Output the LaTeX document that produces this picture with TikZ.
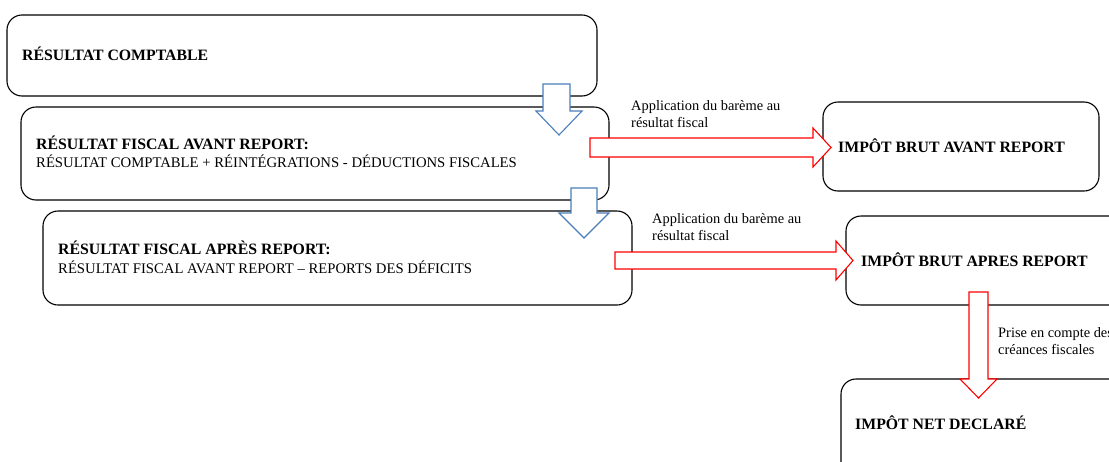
\documentclass[tikz,border=0pt]{standalone}
\usepackage{fontspec}
\setmainfont{Liberation Serif}
\definecolor{arrowblue}{RGB}{74,126,187}
\definecolor{arrowred}{RGB}{255,0,0}
\tikzset{
  box/.style={draw=black, line width=1.1pt, rounded corners=15pt, fill=white},
  title/.style={anchor=base west, inner sep=0pt, font=\fontsize{15.8}{17}\selectfont\bfseries},
  body/.style={anchor=base west, inner sep=0pt, font=\fontsize{14.7}{16.5}\selectfont},
  lbl/.style={anchor=base west, inner sep=0pt, font=\fontsize{14.4}{16}\selectfont},
  bluearrow/.style={draw=arrowblue, line width=1.1pt, fill=white, line join=miter},
  redarrow/.style={draw=arrowred, line width=1.1pt, fill=white, line join=miter},
}
\begin{document}
\begin{tikzpicture}[x=1pt,y=-1pt]
\useasboundingbox (0,0) rectangle (1109,461);
\clip (0,0) rectangle (1109,461);
% boxes
\draw[box] (7,15) rectangle (597,96);
\node[inner sep=0pt] (b1) at (302,55.5) {};
\draw[box] (21,107) rectangle (609,200);
\node[inner sep=0pt] (b2) at (315,153.5) {};
\draw[box] (43,211) rectangle (632,305);
\node[inner sep=0pt] (b3) at (337,258) {};
\draw[box] (823,102) rectangle (1099,191);
\node[inner sep=0pt] (b4) at (961,146.5) {};
\draw[box] (846,216) rectangle (1125,305);
\node[inner sep=0pt] (b5) at (985,260) {};
\draw[box] (841,379) rectangle (1130,480);
\node[inner sep=0pt] (b6) at (985,430) {};
% texts
\node[title] (t1) at (22,60) {RÉSULTAT COMPTABLE};
\node[title] (t2a) at (36,149) {RÉSULTAT FISCAL AVANT REPORT:};
\node[body]  (t2b) at (36,167) {RÉSULTAT COMPTABLE + RÉINTÉGRATIONS - DÉDUCTIONS FISCALES};
\node[title] (t3a) at (58,254) {RÉSULTAT FISCAL APRÈS REPORT:};
\node[body]  (t3b) at (58,273) {RÉSULTAT FISCAL AVANT REPORT – REPORTS DES DÉFICITS};
\node[title] (t4) at (838,152) {IMPÔT BRUT AVANT REPORT};
\node[title] (t5) at (861,266) {IMPÔT BRUT APRES REPORT};
\node[title] (t6) at (855,429) {IMPÔT NET DECLARÉ};
% blue arrows
\draw[bluearrow] (543,84) -- (570,84) -- (570,111) -- (582,111) -- (559,135) -- (536,111) -- (543,111) -- cycle;
\draw[bluearrow] (571,188) -- (597,188) -- (597,213) -- (609,213) -- (584,238) -- (559,213) -- (571,213) -- cycle;
% red arrows
\draw[redarrow] (590,138) -- (813,138) -- (813,128) -- (831,147.5) -- (813,167) -- (813,157) -- (590,157) -- cycle;
\draw[redarrow] (615,252) -- (836,252) -- (836,241) -- (853,260.5) -- (836,280) -- (836,269) -- (615,269) -- cycle;
\draw[redarrow] (969,292) -- (988,292) -- (988,379) -- (997,379) -- (978.5,398) -- (960,379) -- (969,379) -- cycle;
% labels
\node[lbl] (l1a) at (631,110) {Application du barème au};
\node[lbl] (l1b) at (631,127) {résultat fiscal};
\node[lbl] (l2a) at (652,223) {Application du barème au};
\node[lbl] (l2b) at (652,240) {résultat fiscal};
\node[lbl] (l3a) at (998,337) {Prise en compte des};
\node[lbl] (l3b) at (998,354) {créances fiscales};
\end{tikzpicture}
\end{document}
